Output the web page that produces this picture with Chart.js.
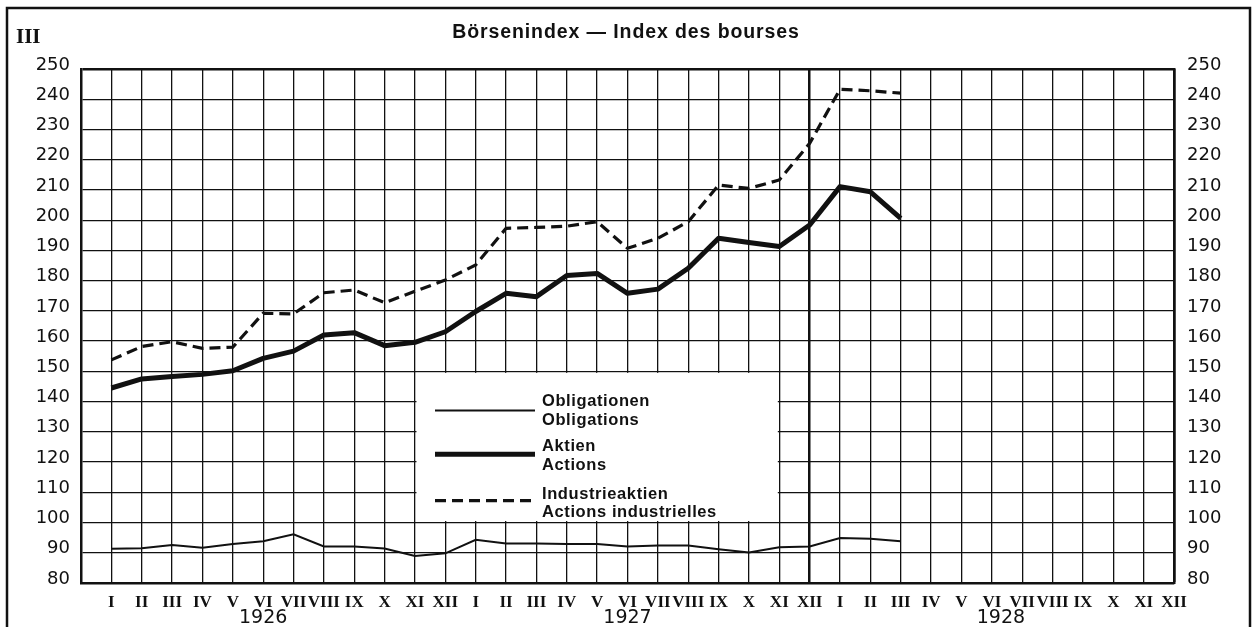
<!DOCTYPE html>
<html>
<head>
<meta charset="utf-8">
<script src="https://cdn.jsdelivr.net/npm/chart.js@4.4.0/dist/chart.umd.min.js"></script>
<style>
  html, body { margin: 0; padding: 0; background: #fff; }
  #wrap { width: 1258px; height: 627px; position: relative; }
</style>
</head>
<body>
<div id="wrap"><canvas id="chart"></canvas></div>
<script>
// month labels repeat for 1926, 1927, 1928
const monthLabels = ["I", "II", "III", "IV", "V", "VI", "VII", "VIII", "IX", "X", "XI", "XII"];
const years = ["1926", "1927", "1928"];
const seriesDe = ["Obligationen", "Aktien", "Industrieaktien"];
const seriesFr = ["Obligations", "Actions", "Actions industrielles"];

// values from 1926 I to 1928 III
const obligationen = [91.3, 91.5, 92.6, 91.7, 92.9, 93.8, 96.1, 92.1, 92.1, 91.4, 88.9, 89.8,
  94.3, 93.1, 93.1, 92.9, 92.9, 92.1, 92.4, 92.4, 91.2, 90.1, 91.8, 92.1,
  94.9, 94.6, 93.8];
const aktien = [144.5, 147.5, 148.3, 149.0, 150.2, 154.3, 156.7, 162.0, 162.8, 158.5, 159.6, 163.1,
  169.8, 175.8, 174.7, 181.7, 182.4, 175.8, 177.2, 184.1, 194.0, 192.6, 191.3, 198.4,
  211.1, 209.4, 200.6];
const industrieaktien = [153.8, 158.2, 159.8, 157.6, 158.0, 169.2, 169.0, 176.0, 176.9, 172.7, 176.5, 180.2,
  185.2, 197.3, 197.6, 198.0, 199.5, 190.7, 194.0, 199.5, 211.6, 210.5, 213.3, 225.4,
  243.3, 242.8, 242.0];

const ink = "#111";
const toPoints = arr => arr.map((v, i) => ({ x: i, y: v }));

const tickFont = { family: "DejaVu Sans", size: 18 };

const decor = {
  id: "decor",
  beforeDatasetsDraw(chart) {
    // white legend panel over the grid
    const { ctx, scales: { x, y } } = chart;
    const l = x.getPixelForValue(10), r = x.getPixelForValue(22);
    const t = y.getPixelForValue(150), b = y.getPixelForValue(100);
    ctx.save();
    ctx.fillStyle = "#fff";
    ctx.fillRect(l + 1.5, t + 1.5, r - l - 3, b - t - 3);
    ctx.restore();
  },
  afterDraw(chart) {
    const { ctx, scales: { x } } = chart;
    ctx.save();

    // outer frame
    ctx.strokeStyle = ink;
    ctx.lineWidth = 2.5;
    ctx.strokeRect(7, 8, 1243, 640);

    ctx.fillStyle = ink;
    ctx.textBaseline = "middle";

    // title
    ctx.font = "bold 19.5px 'Liberation Sans'";
    ctx.letterSpacing = "0.9px";
    ctx.textAlign = "center";
    ctx.fillText("Börsenindex — Index des bourses", 626, 33);

    // plate number
    ctx.letterSpacing = "0px";
    ctx.font = "bold 21px 'Liberation Serif'";
    ctx.textAlign = "left";
    ctx.fillText("III", 16, 38);

    // years under the months
    ctx.font = "19px 'DejaVu Sans'";
    ctx.textAlign = "center";
    const yearPos = [5, 17, 29.3];
    years.forEach((yr, i) => ctx.fillText(yr, x.getPixelForValue(yearPos[i]), 618));

    // legend
    const rows = [
      { line: 410.5, top: 401.7, bottom: 420.7, width: 2, dash: [] },
      { line: 454.3, top: 446.7, bottom: 465.0, width: 5, dash: [] },
      { line: 500.7, top: 494.0, bottom: 512.7, width: 3.2, dash: [11, 6] }
    ];
    rows.forEach((r, i) => {
      ctx.beginPath();
      ctx.lineWidth = r.width;
      ctx.setLineDash(r.dash);
      ctx.moveTo(435, r.line);
      ctx.lineTo(535, r.line);
      ctx.stroke();
      ctx.setLineDash([]);
      ctx.font = "bold 16.5px 'Liberation Sans'";
      ctx.letterSpacing = "0.6px";
      ctx.textAlign = "left";
      ctx.fillText(seriesDe[i], 542, r.top);
      ctx.fillText(seriesFr[i], 542, r.bottom);
    });
    ctx.restore();
  }
};

new Chart(document.getElementById("chart"), {
  type: "line",
  data: {
    datasets: [
      { label: seriesDe[0], data: toPoints(obligationen), borderColor: ink, borderWidth: 2, pointRadius: 0, tension: 0 },
      { label: seriesDe[1], data: toPoints(aktien), borderColor: ink, borderWidth: 5, pointRadius: 0, tension: 0, borderJoinStyle: "round" },
      { label: seriesDe[2], data: toPoints(industrieaktien), borderColor: ink, borderWidth: 3.2, borderDash: [11, 6], pointRadius: 0, tension: 0 }
    ]
  },
  options: {
    animation: false,
    responsive: true,
    maintainAspectRatio: false,
    layout: { padding: { top: 69, left: 0, right: 0, bottom: 0 } },
    plugins: { legend: { display: false }, tooltip: { enabled: false } },
    scales: {
      x: {
        type: "linear",
        min: -1,
        max: 35,
        afterFit: s => { s.height = 44; },
        grid: {
          color: ink,
          lineWidth: c => (c.tick && (c.tick.value === 23 || c.tick.value === 35)) ? 2.5 : 1.3,
          drawTicks: false
        },
        border: { color: ink, width: 2.5 },
        ticks: {
          stepSize: 1,
          autoSkip: false,
          maxRotation: 0,
          padding: 9,
          color: ink,
          font: { family: "Liberation Serif", weight: "bold", size: 17 },
          callback: v => v < 0 ? "" : monthLabels[Math.round(v) % 12]
        }
      },
      y: {
        position: "left",
        min: 80,
        max: 250,
        afterFit: s => { s.width = 81; },
        grid: {
          color: ink,
          lineWidth: c => (c.tick && c.tick.value === 250) ? 2.5 : 1.3,
          drawTicks: false
        },
        border: { color: ink, width: 2.5 },
        ticks: { stepSize: 10, padding: 11, labelOffset: -4, color: ink, font: tickFont }
      },
      y2: {
        position: "right",
        min: 80,
        max: 250,
        afterFit: s => { s.width = 84; },
        grid: { display: false, drawTicks: false },
        border: { display: true, color: ink, width: 2.5 },
        ticks: { stepSize: 10, padding: 13, labelOffset: -4, color: ink, font: tickFont }
      }
    }
  },
  plugins: [decor]
});
</script>
</body>
</html>
